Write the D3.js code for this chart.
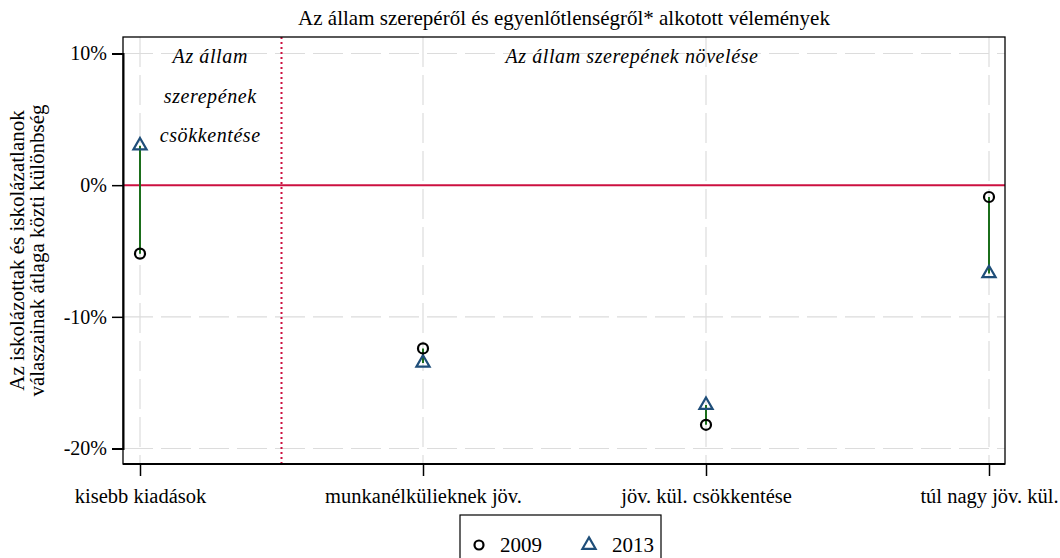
<!DOCTYPE html>
<html>
<head>
<meta charset="utf-8">
<script src="https://cdn.jsdelivr.net/npm/d3@7"></script>
<style>
  html, body { margin: 0; padding: 0; background: #fff; }
  svg { display: block; }
</style>
</head>
<body>
<svg id="chart" width="1060" height="558"></svg>
<script>
const categories = ["kisebb kiadások", "munkanélkülieknek jöv.", "jöv. kül. csökkentése", "túl nagy jöv. kül."];
const values2009 = [-5.2, -12.4, -18.2, -0.9];
const values2013 = [3.0, -13.5, -16.7, -6.7];
const yTicks = [10, 0, -10, -20];
const seriesNames = ["2009", "2013"];
const titleText = "Az állam szerepéről és egyenlőtlenségről* alkotott vélemények";
const yLabelLines = ["Az iskolázottak és iskolázatlanok", "válaszainak átlaga közti különbség"];
const leftNote = ["Az állam", "szerepének", "csökkentése"];
const rightNote = "Az állam szerepének növelése";

const FONT = "'Liberation Serif', 'Times New Roman', serif";
const svg = d3.select("#chart");
const plot = { left: 123, right: 1005, top: 37, bottom: 464 };

const x = d3.scalePoint().domain(categories).range([140, 989]);
const y = d3.scaleLinear().domain([10, -20]).range([53.5, 448.5]);

const gridColor = "#dcdcdc";
const red = "#cc1040";
const green = "#1b6e1b";
const navy = "#1f4e79";

function serif(sel, size, italic) {
  sel.style("font-family", FONT).style("font-size", size + "px").style("fill", "#000");
  if (italic) sel.style("font-style", "italic");
  return sel;
}

// gridlines
svg.append("g").selectAll("line").data(yTicks.filter(d => d !== 0)).join("line")
  .attr("x1", plot.left).attr("x2", plot.right)
  .attr("y1", d => y(d)).attr("y2", d => y(d))
  .attr("stroke", gridColor).attr("stroke-width", 1.2).attr("stroke-dasharray", "30,8");
svg.append("g").selectAll("line").data(categories).join("line")
  .attr("x1", d => x(d)).attr("x2", d => x(d))
  .attr("y1", plot.top).attr("y2", plot.bottom)
  .attr("stroke", gridColor).attr("stroke-width", 1.2).attr("stroke-dasharray", "30,8");

// zero line
svg.append("line")
  .attr("x1", plot.left).attr("x2", plot.right)
  .attr("y1", y(0)).attr("y2", y(0))
  .attr("stroke", red).attr("stroke-width", 2);

// divider (dotted)
const divX = (x(categories[0]) + x(categories[1])) / 2;
svg.append("line")
  .attr("x1", divX).attr("x2", divX)
  .attr("y1", plot.top).attr("y2", plot.bottom)
  .attr("stroke", red).attr("stroke-width", 2).attr("stroke-dasharray", "2,3");

// connectors
svg.append("g").selectAll("line").data(categories).join("line")
  .attr("x1", d => x(d)).attr("x2", d => x(d))
  .attr("y1", (d, i) => y(values2009[i])).attr("y2", (d, i) => y(values2013[i]))
  .attr("stroke", green).attr("stroke-width", 2);

// markers
const tri = d3.symbol().type(d3.symbolTriangle).size(75);
svg.append("g").selectAll("path").data(categories).join("path")
  .attr("d", tri)
  .attr("transform", (d, i) => `translate(${x(d)},${y(values2013[i])})`)
  .attr("fill", "none").attr("stroke", navy).attr("stroke-width", 2.2);
svg.append("g").selectAll("circle").data(categories).join("circle")
  .attr("cx", d => x(d)).attr("cy", (d, i) => y(values2009[i]))
  .attr("r", 5).attr("fill", "none").attr("stroke", "#000").attr("stroke-width", 2.2);

// frame
svg.append("rect")
  .attr("x", plot.left).attr("y", plot.top)
  .attr("width", plot.right - plot.left).attr("height", plot.bottom - plot.top)
  .attr("fill", "none").attr("stroke", "#000").attr("stroke-width", 1.3);

// y axis
const yAxis = svg.append("g").attr("transform", `translate(${plot.left},0)`)
  .call(d3.axisLeft(y).tickValues(yTicks).tickSize(11).tickPadding(5).tickFormat(d => d + "%"));
yAxis.select(".domain").attr("stroke", "#000").attr("stroke-width", 2);
yAxis.selectAll(".tick line").attr("stroke", "#000").attr("stroke-width", 1.5);
serif(yAxis.selectAll("text"), 20);

// x axis
const xAxis = svg.append("g").attr("transform", `translate(0,${plot.bottom})`)
  .call(d3.axisBottom(x).tickSize(12).tickPadding(12));
xAxis.select(".domain").attr("d", `M${plot.left},0H${plot.right}`).attr("stroke", "#000").attr("stroke-width", 2);
xAxis.selectAll(".tick line").attr("stroke", "#000").attr("stroke-width", 1.5);
serif(xAxis.selectAll("text"), 20.5);

// title
serif(svg.append("text").attr("x", (plot.left + plot.right) / 2).attr("y", 25)
  .attr("text-anchor", "middle").text(titleText), 21);

// y label
const yl = svg.append("text").attr("transform", `translate(0,${(plot.top + plot.bottom) / 2}) rotate(-90)`)
  .attr("text-anchor", "middle");
serif(yl, 21);
yLabelLines.forEach((t, i) => yl.append("tspan").attr("x", 0).attr("y", 24 + i * 20).text(t));

// annotations
const noteX = (plot.left + divX) / 2 + 8;
serif(svg.append("g").selectAll("text").data(leftNote).join("text")
  .attr("x", noteX).attr("y", (d, i) => 63 + i * 39.5)
  .attr("text-anchor", "middle").style("letter-spacing", "0.6px").text(d => d), 20, true);
serif(svg.append("text").attr("x", 632).attr("y", 63)
  .attr("text-anchor", "middle").style("letter-spacing", "0.6px").text(rightNote), 20, true);

// legend
const lg = svg.append("g");
lg.append("rect").attr("x", 460).attr("y", 515).attr("width", 201).attr("height", 50)
  .attr("fill", "#fff").attr("stroke", "#000").attr("stroke-width", 1.2);
lg.append("circle").attr("cx", 479).attr("cy", 545).attr("r", 4.5)
  .attr("fill", "none").attr("stroke", "#000").attr("stroke-width", 2.2);
serif(lg.append("text").attr("x", 500).attr("y", 552).text(seriesNames[0]), 21);
lg.append("path").attr("d", tri).attr("transform", "translate(589,545)")
  .attr("fill", "none").attr("stroke", navy).attr("stroke-width", 2.2);
serif(lg.append("text").attr("x", 612).attr("y", 552).text(seriesNames[1]), 21);
</script>
</body>
</html>
